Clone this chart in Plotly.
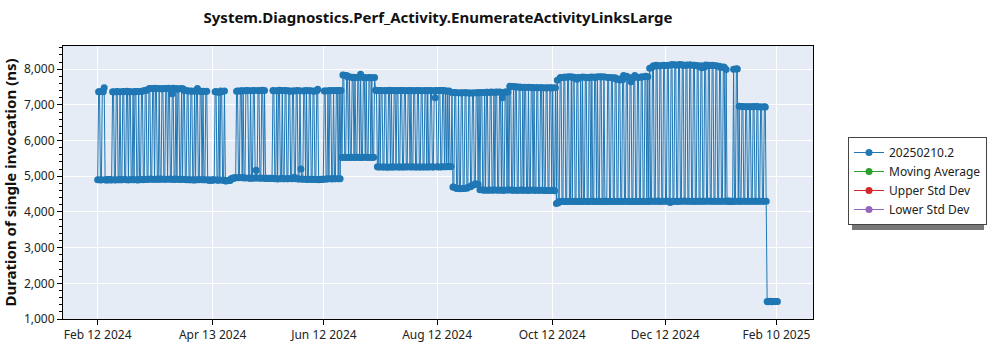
import pandas as pd
import plotly.graph_objects as go

# Benchmark results: two runs per day, Feb 12 2024 -> Feb 10 2025 (ns)
feb_apr_2024 = [
    4905, 7365, 7370, 4898, 4902, 7372, 7368, 7478, 4901, 4895,
    4902, 4893, 4910, 4899, 4905, 4896, 7368, 7362, 4901, 4896,
    7370, 7375, 4903, 4905, 7369, 4899, 4902, 7372, 7366, 4912,
    4903, 7380, 7374, 4897, 7370, 7366, 4908, 4902, 7371, 4899,
    7368, 7372, 4905, 4897, 7377, 4903, 4908, 7373, 7392, 4900,
    4915, 7410, 7405, 4912, 4918, 7455, 7462, 4920, 4918, 7458,
    7449, 4912, 7465, 7452, 4920, 4917, 7460, 4914, 4921, 7448,
    7456, 4916, 4919, 7462, 7451, 4913, 7468, 7454, 4920, 4915,
    7310, 7466, 4911, 4920, 7458, 4916, 7440, 7452, 4908, 4911,
    7459, 4914, 7444, 7402, 4909, 4905, 7395, 7388, 4903, 4902,
    7390, 7380, 4898, 4901, 7386, 4897, 7383, 7460, 4906, 4900,
    7385, 7378, 4904, 7381, 4899, 4903, 7376, 7380, 4897, 4895,
    4890, 4893, 4888, 4892, 4894, 4899, 7365, 7372, 4896, 4888,
    7350, 4895, 7390, 7368, 4891, 4893, 7386, 4870, 4875, 4872,
    4880, 4885, 4878, 4930, 4925, 4950, 4945, 4955]
apr_jun_2024 = [
    4960, 7385, 7392, 4958, 4962, 7390, 7398, 4957, 7395, 4961,
    4950, 7395, 7400, 7402, 4953, 4945, 7397, 4949, 4947, 7400,
    7404, 4951, 5170, 4948, 7405, 7398, 4946, 4952, 7401, 7410,
    4944, 7403, 4940, 4945, 4938, 4942, 4940, 4937, 4943, 4941,
    7402, 7398, 4930, 4934, 7395, 4925, 7399, 7410, 4931, 4935,
    7405, 4928, 4933, 7401, 7398, 4930, 4927, 7396, 7385, 4935,
    4932, 7392, 7388, 4970, 4929, 7394, 7400, 4926, 4923, 7397,
    5205, 4920, 4915, 7390, 7396, 4918, 7400, 4910, 4914, 7393,
    7395, 4918, 4912, 7389, 7380, 4916, 4909, 7398, 7440, 4905,
    4908, 4912, 4915, 4910, 4913, 7392, 7389, 4925, 4921, 7395,
    4930, 7398, 7400, 4926, 4935, 7403, 4931, 4928, 7398, 7401,
    4933, 7405, 4930, 7402]
jun_jul_2024 = [
    5525, 7835, 7828, 5530, 5527, 7820, 7790, 5528, 7785, 5531,
    5532, 7770, 7775, 5529, 7765, 5530, 5533, 7768, 7772, 5528,
    7855, 5527, 5531, 7770, 7766, 5533, 7760, 5530, 5528, 7764,
    7765, 5529, 7762, 5531, 5530, 7768]
jul_aug_2024 = [
    7410, 7405, 5265, 5258, 7403, 5261, 7400, 7395, 5262, 5260,
    7398, 7402, 5257, 5255, 7399, 7410, 5258, 7404, 5262, 5259,
    7400, 7395, 5260, 7398, 7400, 5257, 5261, 7403, 7405, 5262,
    5258, 7400, 7397, 5260, 5263, 7398, 7401, 5258, 7402, 5263,
    5260, 7399, 7396, 5257, 5260, 7400, 7404, 5262, 5258, 7395,
    7398, 5261, 5259, 7401, 7397, 5262, 7400, 5260, 5264, 7403,
    7399, 5258, 5261, 7396, 7200, 7400, 5265, 5262, 7402, 7405,
    5262, 5266, 7401, 7398, 5268, 7394, 5266, 7385, 5270, 7390,
    5268, 5272]
aug_sep_2024 = [
    7350, 4700, 4690, 7345, 7340, 4660, 4655, 7338, 4662, 4650,
    7335, 7338, 4656, 4660, 7342, 7340, 4665, 4690, 7336, 7330,
    4705, 4740, 7334, 7332, 4760, 4790, 7338, 7340, 4775, 7342]
sep_oct_2024 = [
    4620, 7345, 7350, 4615, 4612, 7348, 4608, 7355, 7352, 4611,
    4615, 7348, 7360, 4610, 4613, 7356, 4612, 7355, 7358, 4609,
    4612, 7362, 7357, 4610, 7200, 4608, 4611, 7360, 7358, 4615,
    7362, 4613, 7520, 7515, 4612, 4610, 7518, 4611, 7500, 7505,
    4608, 4610, 7495, 7498, 4612, 4609, 7490, 4606, 7493, 7488,
    4611, 4610, 7491, 4608, 4612, 7485, 7487, 4609, 7480, 4608,
    4606, 7484, 7478, 4605, 4607, 7482, 7480, 4610, 7477, 4604,
    4600, 7475, 7479, 4603, 4598, 7480, 7476, 4601, 7478, 4599,
    4597, 7480]
oct_nov_2024 = [
    4240, 7690, 4255, 4290, 7760, 7770, 4295, 4300, 7765, 7780,
    4292, 4295, 7775, 7790, 4298, 4290, 7785, 4296, 7760, 7772,
    4300, 4293, 7720, 7768, 4295, 4299, 7770, 4290, 7778, 4297,
    4300, 7775, 7769, 4294, 4292, 7760, 7774, 4298, 7780, 4296,
    4298, 7777, 7770, 4291, 7786, 4300, 4295, 7790, 7781, 4293,
    4290, 7785, 4297, 4300, 4294, 7770, 7765, 4298, 4291, 7760,
    7762, 4290, 4297, 7760, 7720, 4293, 4300, 7725, 7700, 4296,
    4295, 7705, 7820, 4299, 4300, 7800, 7790, 4294, 4297, 7760,
    7650, 4292, 4296, 7770, 7820, 4298, 4293, 7775, 7770, 4295,
    4299, 7778, 7780, 4300, 4294, 7795, 7800, 4290, 7785, 4296]
dec_2024 = [
    8030, 4310, 4302, 8060, 8100, 4300, 4297, 8110, 8090, 4305,
    4295, 8095, 8100, 4300, 4303, 8108, 8105, 4298, 4310, 8102,
    8110, 4301, 4265, 8115, 8130, 4300, 4296, 8125, 8110, 4302,
    4295, 8118, 8135, 4300, 4297, 8128, 8105, 4304, 4298, 8112,
    8120, 4302, 4299, 8116, 8115, 4300, 4303, 8109, 8110, 4296,
    4298, 8104, 8080, 4301, 4300, 8095, 8040, 4297, 4300, 8060,
    8120, 4303, 4305, 8114, 8100, 4299, 4300, 8108, 8105, 4302,
    4298, 8098, 8090, 4301, 4300, 8085, 8050, 4297, 4302, 8062,
    8055, 4299, 7990, 4300, 4305, 4298, 4302, 4300, 4296, 4301,
    8000, 4300, 4298, 8010, 8005, 4302]
jan_2025 = [
    6960, 4300, 4302, 6952, 6955, 4298, 4301, 6948, 6950, 4302,
    4299, 6945, 6946, 4300, 4303, 6950, 6952, 4300, 4298, 6955,
    6949, 4300, 4302, 6940, 6944, 4299, 4301, 6945, 6942, 4300]
feb_2025 = [1490, 1485, 1492, 1495, 1488, 1486, 1492, 1490, 1487, 1493, 1489, 1490]

durations = (feb_apr_2024 + apr_jun_2024 + jun_jul_2024 + jul_aug_2024 +
             aug_sep_2024 + sep_oct_2024 + oct_nov_2024 + dec_2024 +
             jan_2025 + feb_2025)
run_dates = pd.date_range("2024-02-12", periods=len(durations), freq="12h")

# statistics series carry no values for this build
moving_average = [None] * len(durations)
upper_std_dev = [None] * len(durations)
lower_std_dev = [None] * len(durations)

tick_dates = ["2024-02-12", "2024-04-13 16:00", "2024-06-12 08:00",
              "2024-08-12", "2024-10-12 16:00", "2024-12-12 08:00",
              "2025-02-10"]
tick_labels = ["Feb 12 2024", "Apr 13 2024", "Jun 12 2024", "Aug 12 2024",
               "Oct 12 2024", "Dec 12 2024", "Feb 10 2025"]

series_names = ["20250210.2", "Moving Average", "Upper Std Dev", "Lower Std Dev"]
series_colors = ["#1f77b4", "#2ca02c", "#d62728", "#9467bd"]
series_values = [durations, moving_average, upper_std_dev, lower_std_dev]

FONT = "Noto Sans, sans-serif"

fig = go.Figure()
for name, color, values in zip(series_names, series_colors, series_values):
    fig.add_trace(go.Scatter(
        x=run_dates, y=values, mode="lines+markers", name=name,
        line=dict(color=color, width=1),
        marker=dict(color=color, size=7),
    ))

W, H = 1000, 350
ML, MR, MT, MB = 63, 187, 46, 31
pw, ph = W - ML - MR, H - MT - MB


def px_x(x):
    return (x - ML) / pw


def px_y(y):
    return (H - MB - y) / ph


# drop shadow behind the legend box
fig.add_shape(type="rect", xref="paper", yref="paper",
              x0=px_x(852), x1=px_x(984), y0=px_y(230), y1=px_y(141),
              line=dict(width=0), fillcolor="#777777", layer="below")

fig.update_layout(
    width=W, height=H,
    margin=dict(l=ML, r=MR, t=MT, b=MB, autoexpand=False),
    paper_bgcolor="white", plot_bgcolor="#E5ECF6",
    font=dict(family=FONT, size=12, color="#222"),
    title=dict(text="<b>System.Diagnostics.Perf_Activity.EnumerateActivityLinksLarge</b>",
               x=0.5, xref="paper", xanchor="center",
               y=1 - 18 / H, yref="container", yanchor="middle",
               font=dict(family=FONT, size=15, color="#111")),
    showlegend=True,
    legend=dict(x=px_x(848), xanchor="left", y=px_y(137), yanchor="top",
                bgcolor="white", bordercolor="#444", borderwidth=1,
                font=dict(family=FONT, size=12, color="#222"),
                itemwidth=30),
    xaxis=dict(
        type="date", automargin=False,
        range=["2024-01-24 10:00", "2025-03-01 14:00"],
        tickvals=tick_dates, ticktext=tick_labels,
        showgrid=True, gridcolor="white", gridwidth=1,
        showline=True, linecolor="black", linewidth=1, mirror=True,
        ticks="outside", ticklen=5, tickcolor="black",
        tickfont=dict(family=FONT, size=12, color="#222"),
        zeroline=False,
    ),
    yaxis=dict(
        automargin=False,
        range=[1000, 8650],
        tickvals=[1000, 2000, 3000, 4000, 5000, 6000, 7000, 8000],
        tickformat=",d",
        showgrid=True, gridcolor="white", gridwidth=1,
        showline=True, linecolor="black", linewidth=1, mirror=True,
        ticks="outside", ticklen=5, tickcolor="black",
        minor=dict(dtick=200, ticks="outside", ticklen=3, tickcolor="black",
                   showgrid=False),
        tickfont=dict(family=FONT, size=12, color="#222"),
        title=dict(text="<b>Duration of single invocation (ns)</b>",
                   font=dict(family=FONT, size=15, color="#111"), standoff=4),
        zeroline=False,
    ),
)

fig.write_html("out.html")
